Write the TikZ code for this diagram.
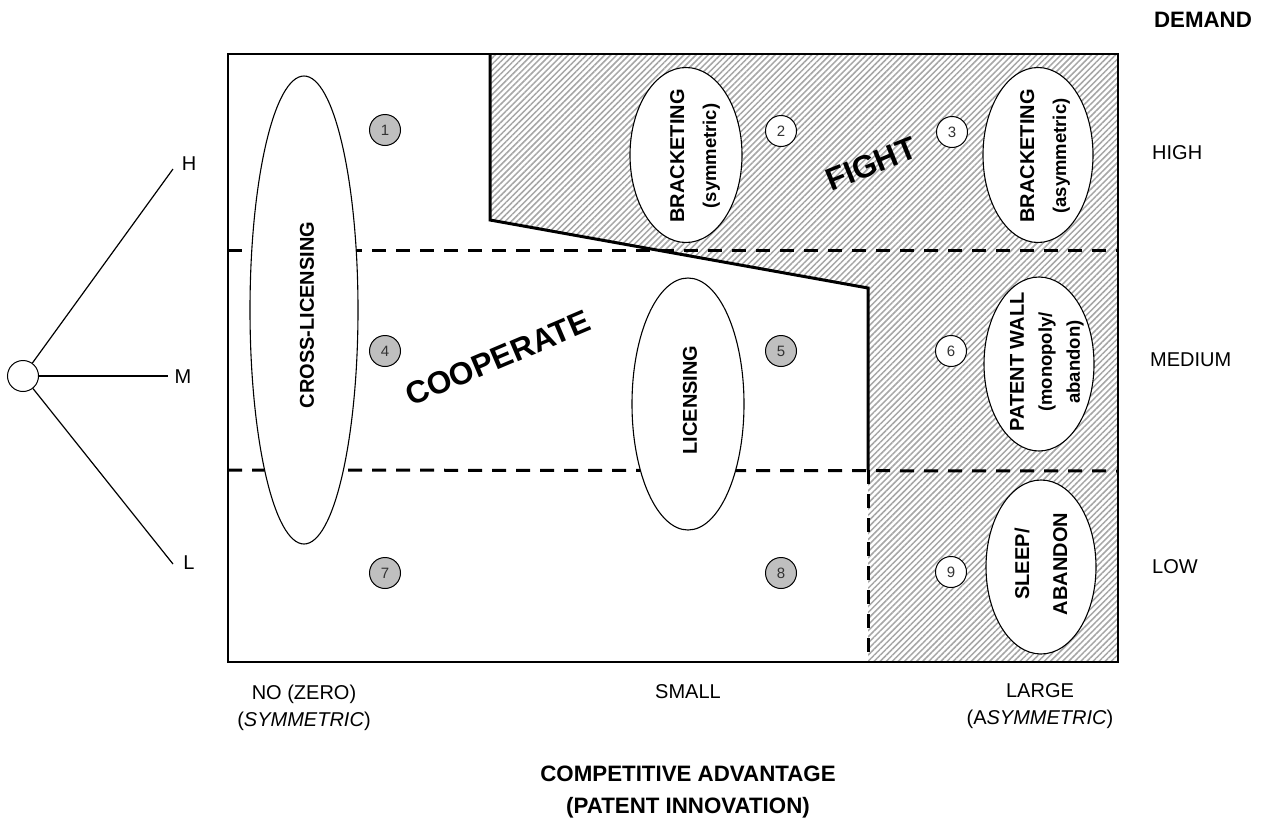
\documentclass[tikz,border=0pt]{standalone}
\usepackage{fontspec}
\setmainfont{Liberation Sans}
\usetikzlibrary{shapes.geometric,patterns.meta}
\begin{document}
\begin{tikzpicture}[x=1pt,y=-1pt,
  frame/.style={line width=1.5pt},
  bound/.style={line width=3pt, line join=miter},
  divide/.style={line width=3pt, dash pattern=on 14pt off 10pt},
  hatch/.style={fill=white, postaction={pattern={Lines[angle=45,distance=4.3pt,line width=1.5pt]}, pattern color=black!35}},
  oval/.style={ellipse, draw, fill=white, line width=1.1pt, inner sep=0pt},
  ovaltext/.style={rotate=90, align=center, inner sep=0pt, font=\bfseries\fontsize{20}{#1}\selectfont},
  ovaltext/.default=28pt,
  numc/.style={circle, draw, line width=1pt, minimum size=31pt, inner sep=0pt, text=black!80, font=\fontsize{15}{15}\selectfont},
  darkc/.style={numc, fill=black!25},
  lightc/.style={numc, fill=white},
  lab/.style={inner sep=0pt, font=\fontsize{20}{27}\selectfont, align=center},
  title/.style={inner sep=0pt, font=\bfseries\fontsize{22.3}{24}\selectfont},
  big/.style={inner sep=0pt, font=\bfseries\fontsize{31.5}{34}\selectfont},
  tree/.style={line width=1.2pt}
]
\useasboundingbox (0,0) rectangle (1264,830);

% hatched "fight" zone
\path[hatch] (490,54) -- (1118,54) -- (1118,662) -- (868,662) -- (868,288) -- (490,220) -- cycle;

% outer frame
\draw[frame] (228,54) rectangle (1118,662);

% demand level dividers
\draw[divide] (228,250) -- (1118,250);
\draw[divide] (228,470) -- (1118,471);
\draw[divide] (868,470) -- (868,662);

% cooperate / fight boundary
\draw[bound] (490,54) -- (490,220) -- (868,288) -- (868,470);

% strategy ovals
\node[oval, minimum width=108pt, minimum height=468pt] (crossO) at (304,310) {};
\node[ovaltext] (crossT) at (307,315) {CROSS-LICENSING};

\node[oval, minimum width=112pt, minimum height=175pt] (bsO) at (686,155) {};
\node[ovaltext=32pt] (bsT) at (695,156) {BRACKETING\\{\fontsize{18.5}{32pt}\selectfont (symmetric)}};

\node[oval, minimum width=110pt, minimum height=175pt] (baO) at (1038,155) {};
\node[ovaltext=32pt] (baT) at (1045,156) {BRACKETING\\{\fontsize{18.5}{32pt}\selectfont (asymmetric)}};

\node[oval, minimum width=112pt, minimum height=252pt] (licO) at (688,404) {};
\node[ovaltext] (licT) at (690,400) {LICENSING};

\node[oval, minimum width=110pt, minimum height=174pt] (pwO) at (1039,364) {};
\node[ovaltext=28pt] (pwT) at (1047,362) {PATENT WALL\\{\fontsize{18.5}{28pt}\selectfont (monopoly/}\\{\fontsize{18.5}{28pt}\selectfont abandon)}};

\node[oval, minimum width=110pt, minimum height=174pt] (slO) at (1041,567) {};
\node[ovaltext=38pt] (slT) at (1041,564) {SLEEP/\\ABANDON};

% numbered cells
\node[darkc]  (n1) at (385,130) {1};
\node[lightc] (n2) at (781,131) {2};
\node[lightc] (n3) at (952,132) {3};
\node[darkc]  (n4) at (385,351) {4};
\node[darkc]  (n5) at (781,351) {5};
\node[lightc] (n6) at (951,351) {6};
\node[darkc]  (n7) at (385,573) {7};
\node[darkc]  (n8) at (781,573) {8};
\node[lightc] (n9) at (951,572) {9};

% zone names
\node[big, rotate=23] (coop) at (498,358) {COOPERATE};
\node[big, rotate=22] (fight) at (871,164) {FIGHT};

% demand tree
\node[circle, draw, line width=1pt, minimum size=31pt, inner sep=0pt] (root) at (23,376) {};
\coordinate (hEnd) at (173,169);
\coordinate (mEnd) at (168,376);
\coordinate (lEnd) at (173,564);
\draw[tree] (root) -- (hEnd);
\draw[tree] (root) -- (mEnd);
\draw[tree] (root) -- (lEnd);
\node[lab] (hLab) at (189,164) {H};
\node[lab] (mLab) at (183,377) {M};
\node[lab] (lLab) at (189,563) {L};

% demand axis
\node[title] (demand) at (1203,20) {DEMAND};
\node[lab, anchor=west] (high) at (1152,153) {HIGH};
\node[lab, anchor=west] (medium) at (1150,360) {MEDIUM};
\node[lab, anchor=west] (low) at (1152,567) {LOW};

% advantage axis
\node[lab] (noAdv) at (304,708) {NO (ZERO)\\(\textit{SYMMETRIC})};
\node[lab] (small) at (688,692) {SMALL};
\node[lab] (large) at (1040,706) {LARGE\\(A\textit{SYMMETRIC})};
\node[title] (compAdv) at (688,774) {COMPETITIVE ADVANTAGE};
\node[title] (patInn) at (688,808) {(PATENT INNOVATION)};
\end{tikzpicture}
\end{document}
